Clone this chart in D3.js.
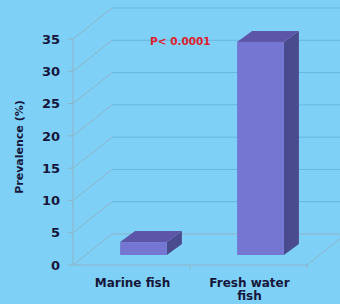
<!DOCTYPE html>
<html>
<head>
<meta charset="utf-8">
<script src="https://cdn.jsdelivr.net/npm/d3@7"></script>
<style>
  body { margin: 0; background: #7fd0f7; }
  svg { display: block; }
</style>
</head>
<body>
<div id="chart"></div>
<script>
/************************************ Data *******************************/
var categories = ["Marine fish", "Fresh water fish"];
var prevalence = [2, 33];
var yTicks = [0, 5, 10, 15, 20, 25, 30, 35];
var yLabel = "Prevalence (%)";
var pLabel = "P< 0.0001";

/************************************ Setup *******************************/
var W = 340, H = 304;
var depth = {dx: 39, dy: -31};     // wall depth
var barShift = {dx: 12, dy: -10};  // bar front inside the floor
var barDepth = {dx: 15, dy: -11};

var svg = d3.select("#chart").append("svg")
	.attr("width", W).attr("height", H);

svg.append("rect").attr("width", W).attr("height", H).attr("fill", "#7fd0f7");

var x = d3.scaleBand().domain(categories).range([73, 307]).paddingInner(0).paddingOuter(0);
var y = d3.scaleLinear().domain([0, 35]).range([265, 39]);
var barW = x.bandwidth() * 0.4;

/************************************ Walls *******************************/
var grid = svg.append("g");
// back wall gridlines
grid.selectAll("line.back").data(yTicks).enter().append("line")
	.attr("x1", x.range()[0] + depth.dx).attr("x2", W + 10)
	.attr("y1", function(d){ return y(d) + depth.dy; })
	.attr("y2", function(d){ return y(d) + depth.dy; })
	.attr("stroke", function(d){ return d === 0 ? "#8fb5c8" : "#66b7e0"; })
	.attr("stroke-width", 1);
// side wall diagonals
grid.selectAll("line.diag").data(yTicks).enter().append("line")
	.attr("x1", x.range()[0]).attr("y1", function(d){ return y(d); })
	.attr("x2", x.range()[0] + depth.dx).attr("y2", function(d){ return y(d) + depth.dy; })
	.attr("stroke", "#8fb5c8").attr("stroke-width", 1);
// front axis
grid.append("line")
	.attr("x1", x.range()[0]).attr("x2", x.range()[0])
	.attr("y1", y(0)).attr("y2", y(35))
	.attr("stroke", "#8fb5c8");
// floor front edge and right diagonal
grid.append("line")
	.attr("x1", x.range()[0]).attr("x2", x.range()[1])
	.attr("y1", y(0)).attr("y2", y(0))
	.attr("stroke", "#8fb5c8");
grid.append("line")
	.attr("x1", x.range()[1]).attr("y1", y(0))
	.attr("x2", x.range()[1] + depth.dx).attr("y2", y(0) + depth.dy)
	.attr("stroke", "#8fb5c8");
// category ticks
grid.selectAll("line.ctick").data(categories).enter().append("line")
	.attr("x1", function(d){ return x(d) + x.bandwidth(); })
	.attr("x2", function(d){ return x(d) + x.bandwidth(); })
	.attr("y1", y(0)).attr("y2", y(0) + 4)
	.attr("stroke", "#8fb5c8");
// y ticks
grid.selectAll("line.ytick").data(yTicks).enter().append("line")
	.attr("x1", x.range()[0] - 5).attr("x2", x.range()[0])
	.attr("y1", function(d){ return y(d); }).attr("y2", function(d){ return y(d); })
	.attr("stroke", "#8fb5c8");

/************************************ Bars *******************************/
var bars = svg.append("g").selectAll("g").data(categories).enter().append("g");

function fx(d){ return x(d) + (x.bandwidth() - barW) / 2 + barShift.dx; }
function fyTop(d, i){ return y(prevalence[i]) + barShift.dy; }
var fyBot = y(0) + barShift.dy;

// side
bars.append("path")
	.attr("d", function(d, i){
		var x0 = fx(d) + barW, t = fyTop(d, i);
		return "M" + x0 + "," + fyBot + "L" + x0 + "," + t +
			"L" + (x0 + barDepth.dx) + "," + (t + barDepth.dy) +
			"L" + (x0 + barDepth.dx) + "," + (fyBot + barDepth.dy) + "Z";
	})
	.attr("fill", "#4a4a8e");
// top
bars.append("path")
	.attr("d", function(d, i){
		var x0 = fx(d), t = fyTop(d, i);
		return "M" + x0 + "," + t + "L" + (x0 + barDepth.dx) + "," + (t + barDepth.dy) +
			"L" + (x0 + barW + barDepth.dx) + "," + (t + barDepth.dy) +
			"L" + (x0 + barW) + "," + t + "Z";
	})
	.attr("fill", "#5d56a8");
// front
bars.append("rect")
	.attr("x", fx)
	.attr("y", fyTop)
	.attr("width", barW)
	.attr("height", function(d, i){ return fyBot - fyTop(d, i); })
	.attr("fill", "#7476d2");

/************************************ Text *******************************/
svg.append("g").selectAll("text").data(yTicks).enter().append("text")
	.attr("x", 60).attr("y", function(d){ return y(d); })
	.attr("dy", "0.36em")
	.attr("text-anchor", "end")
	.style("font", "bold 13px 'DejaVu Sans', Verdana, sans-serif")
	.attr("fill", "#16163a")
	.text(function(d){ return d; });

svg.append("text")
	.attr("transform", "translate(23,147) rotate(-90)")
	.attr("text-anchor", "middle")
	.style("font", "bold 11px 'DejaVu Sans', Verdana, sans-serif")
	.attr("fill", "#16163a")
	.text(yLabel);

var catLines = [["Marine fish"], ["Fresh water", "fish"]];
svg.append("g").selectAll("text").data(categories).enter().append("text")
	.attr("text-anchor", "middle")
	.style("font", "bold 12px 'DejaVu Sans', Verdana, sans-serif")
	.attr("fill", "#16163a")
	.each(function(d, i){
		var t = d3.select(this);
		catLines[i].forEach(function(s, j){
			t.append("tspan")
				.attr("x", x(d) + x.bandwidth() / 2 + 1)
				.attr("y", 287 + j * 13)
				.text(s);
		});
	});

svg.append("text")
	.attr("x", 150).attr("y", 45)
	.style("font", "bold 10.5px 'DejaVu Sans', Verdana, sans-serif")
	.attr("fill", "#e0202c")
	.text(pLabel);
</script>
</body>
</html>
